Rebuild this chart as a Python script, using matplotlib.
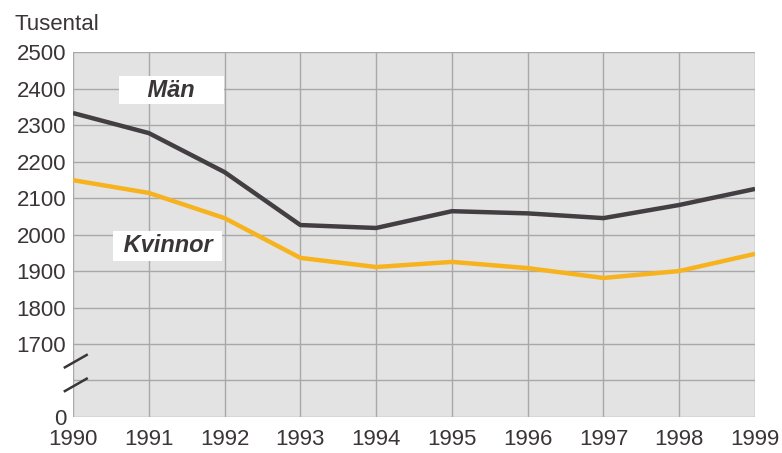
import matplotlib
matplotlib.use("Agg")
import matplotlib.pyplot as plt

plt.rcParams["font.family"] = ["Liberation Sans", "DejaVu Sans"]

# Sysselsatta, tusental
years = [1990, 1991, 1992, 1993, 1994, 1995, 1996, 1997, 1998, 1999]
man = [2333, 2278, 2171, 2026, 2018, 2064, 2058, 2045, 2081, 2125]
kvinnor = [2149, 2114, 2045, 1936, 1911, 1925, 1908, 1881, 1900, 1947]

# y-axeln är bruten: 0 ritas där 1500 skulle ha stått
ytick_vals = [1500, 1600, 1700, 1800, 1900, 2000, 2100, 2200, 2300, 2400, 2500]
ytick_labels = ["0", "", "1700", "1800", "1900", "2000", "2100", "2200", "2300", "2400", "2500"]

TEXT = "#3a3536"
DARK = "#423e42"
YELLOW = "#f6b31d"

fig = plt.figure(figsize=(7.82, 4.53), dpi=100)
ax = fig.add_axes([0.0934, 0.0795, 0.8721, 0.8055])
ax.set_facecolor("#e3e3e3")

ax.plot(years, man, color=DARK, lw=3.2, solid_capstyle="butt", zorder=3)
ax.plot(years, kvinnor, color=YELLOW, lw=3.2, solid_capstyle="butt", zorder=3)

ax.set_xlim(1990, 1999)
ax.set_ylim(1500, 2500)
ax.set_xticks(years)
ax.set_xticklabels([str(y) for y in years])
ax.set_yticks(ytick_vals)
ax.set_yticklabels(ytick_labels)
ax.tick_params(axis="both", length=0, labelsize=16, colors=TEXT)
ax.tick_params(axis="x", pad=9)
ax.tick_params(axis="y", pad=5)
ax.grid(True, color="#a8a8a8", lw=1.0, zorder=1)
ax.set_axisbelow(True)
for s in ax.spines.values():
    s.set_visible(False)

# brytmarkeringar på y-axeln
for yc in (0.153, 0.088):
    ax.plot([-0.012, 0.02], [yc - 0.017, yc + 0.017], transform=ax.transAxes,
            color=TEXT, lw=1.8, clip_on=False, zorder=4)

# serienamn
ax.text(1991.3, 2396, "    Män    ", fontsize=17, fontweight="bold", style="italic",
        color=TEXT, ha="center", va="center", zorder=4,
        bbox=dict(facecolor="white", edgecolor="none", pad=1.5))
ax.text(1991.25, 1969, " Kvinnor ", fontsize=17, fontweight="bold", style="italic",
        color=TEXT, ha="center", va="center", zorder=4,
        bbox=dict(facecolor="white", edgecolor="none", pad=2.5))

fig.text(0.019, 0.945, "Tusental", fontsize=16, color=TEXT, ha="left", va="center")

fig.savefig("out.png", dpi=100)
